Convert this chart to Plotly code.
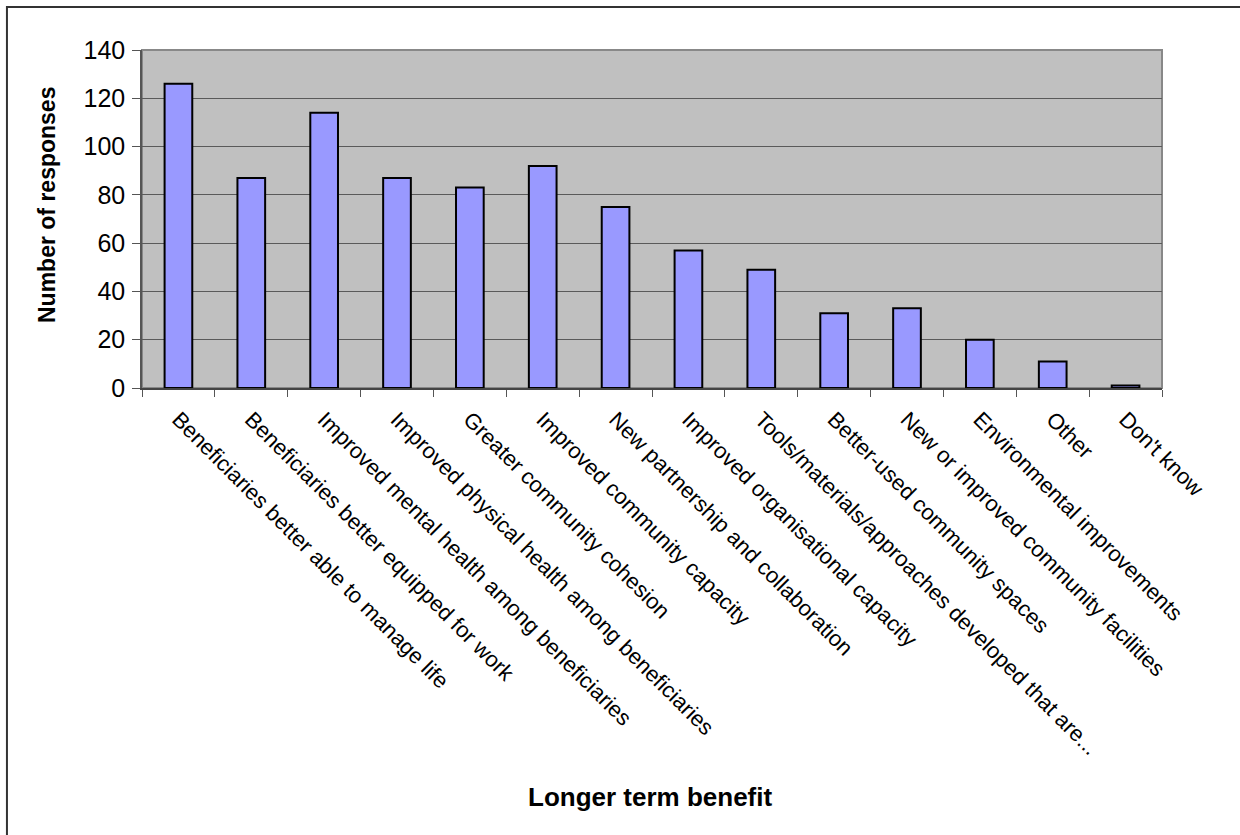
import plotly.graph_objects as go

# Survey results: longer term benefits reported
benefits = [
    "Beneficiaries better able to manage life",
    "Beneficiaries better equipped for work",
    "Improved mental health among beneficiaries",
    "Improved physical health among beneficiaries",
    "Greater community cohesion",
    "Improved community capacity",
    "New partnership and collaboration",
    "Improved organisational capacity",
    "Tools/materials/approaches developed that are...",
    "Better-used community spaces",
    "New or improved community facilities",
    "Environmental improvements",
    "Other",
    "Don't know",
]
responses = [126, 87, 114, 87, 83, 92, 75, 57, 49, 31, 33, 20, 11, 1]
y_ticks = [0, 20, 40, 60, 80, 100, 120, 140]

FONT = "Arial, Liberation Sans, sans-serif"

fig = go.Figure(
    go.Bar(
        x=benefits,
        y=responses,
        marker=dict(color="#9999FF", line=dict(color="#000000", width=2)),
    )
)

fig.update_layout(
    width=1240,
    height=835,
    margin=dict(l=142, r=78, t=50, b=447),
    paper_bgcolor="white",
    plot_bgcolor="#C0C0C0",
    bargap=0.62,
    showlegend=False,
    font=dict(family=FONT, color="#000000"),
    xaxis=dict(
        tickangle=45,
        tickson="boundaries",
        ticks="outside",
        ticklen=7,
        tickcolor="#555555",
        tickfont=dict(size=22, family=FONT),
        ticklabelstandoff=8,
        showline=True,
        linecolor="#444444",
        linewidth=1.5,
        showgrid=False,
        automargin=False,
    ),
    yaxis=dict(
        range=[0, 140],
        tickvals=y_ticks,
        ticks="outside",
        ticklen=8,
        tickcolor="#555555",
        tickfont=dict(size=25, family=FONT),
        ticklabelstandoff=2,
        showline=True,
        linecolor="#555555",
        linewidth=1.5,
        showgrid=True,
        gridcolor="#5a5a5a",
        gridwidth=1,
        zeroline=False,
        automargin=False,
    ),
    shapes=[
        # plot area frame
        dict(type="rect", xref="paper", yref="paper", x0=0, x1=1, y0=0, y1=1,
             line=dict(color="#888888", width=2), layer="below"),
        # outer chart border
        dict(type="rect", xref="paper", yref="paper",
             x0=-0.1324, x1=1.09, y0=-1.36, y1=1.127,
             line=dict(color="#333333", width=2)),
    ],
    annotations=[
        dict(text="<b>Number of responses</b>", xref="paper", yref="paper",
             x=(47 - 142) / 1020, y=(388 - 205) / 338, textangle=-90,
             showarrow=False, xanchor="center", yanchor="middle",
             font=dict(size=23, family=FONT)),
        dict(text="<b>Longer term benefit</b>", xref="paper", yref="paper",
             x=(650 - 142) / 1020, y=(388 - 797) / 338,
             showarrow=False, xanchor="center", yanchor="middle",
             font=dict(size=26, family=FONT)),
    ],
)

fig.write_html("out.html")
